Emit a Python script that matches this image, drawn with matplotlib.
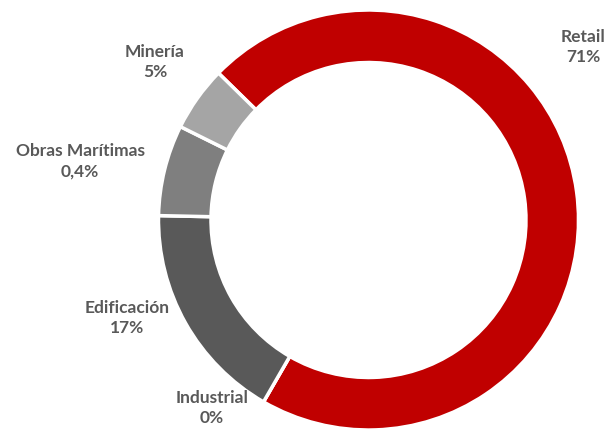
import matplotlib
matplotlib.use("Agg")
import matplotlib.pyplot as plt

# datos
sectores = ["Retail", "Industrial", "Edificación", "Obras Marítimas", "Minería"]
valores = [71, 0, 17, 7, 5]
etiquetas_pct = ["71%", "0%", "17%", "0,4%", "5%"]
colores = ["#C00000", "#404040", "#595959", "#7F7F7F", "#A5A5A5"]

# posiciones de las etiquetas (px en la imagen 612x433)
pos_etiquetas = [(583, 47), (212, 408), (127, 318), (80, 161), (155, 62)]

W, H = 612, 433
fig = plt.figure(figsize=(W / 100, H / 100), dpi=100)
cx, cy, r = 368.5, 220, 210
ax = fig.add_axes([(cx - r) / W, (H - cy - r) / H, 2 * r / W, 2 * r / H])

ax.pie(valores, colors=colores, startangle=135.6, counterclock=False,
       radius=1, wedgeprops=dict(width=0.25, edgecolor="white", linewidth=2.5))
ax.set_xlim(-1, 1)
ax.set_ylim(-1, 1)
ax.set_aspect("equal")
ax.axis("off")

for nombre, pct, (px, py) in zip(sectores, etiquetas_pct, pos_etiquetas):
    fig.text(px / W, 1 - py / H, nombre + "\n" + pct, ha="center", va="center",
             fontsize=12.5, fontweight="bold", color="#595959",
             family=["Lato", "DejaVu Sans"], linespacing=1.35)

fig.savefig("out.png", dpi=100)
